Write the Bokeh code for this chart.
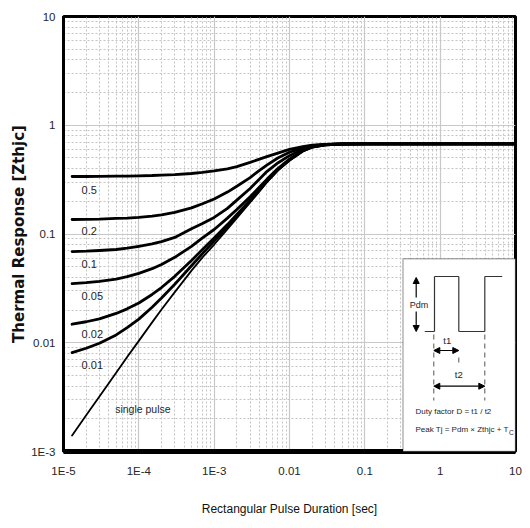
from bokeh.plotting import figure
from bokeh.models import (Range1d, FixedTicker, CustomJSTickFormatter, BoxAnnotation,
                          Arrow, NormalHead, Label, ColumnDataSource)
from bokeh.core.properties import value
from bokeh.embed import file_html
from bokeh.resources import INLINE

# ---------------- data ----------------
pulse_duration = [1.3e-5, 2e-5, 3e-5, 5e-5, 7e-5, 1e-4, 1.5e-4, 2e-4, 3e-4, 5e-4,
                  7e-4, 1e-3, 1.5e-3, 2e-3, 3e-3, 4e-3, 5e-3, 7e-3, 1e-2, 1.5e-2,
                  2e-2, 3e-2, 5e-2, 1e-1, 1.0, 10.0]
zth_d050 = [0.338, 0.338, 0.339, 0.340, 0.341, 0.343, 0.345, 0.348, 0.352, 0.360,
            0.368, 0.380, 0.398, 0.417, 0.455, 0.488, 0.515, 0.555, 0.600, 0.637,
            0.656, 0.668, 0.673, 0.675, 0.675, 0.675]
zth_d020 = [0.136, 0.1365, 0.137, 0.139, 0.140, 0.142, 0.146, 0.150, 0.158, 0.174,
            0.190, 0.210, 0.243, 0.275, 0.330, 0.385, 0.430, 0.500, 0.565, 0.620,
            0.648, 0.666, 0.673, 0.675, 0.675, 0.675]
zth_d010 = [0.069, 0.0695, 0.0705, 0.072, 0.074, 0.077, 0.081, 0.085, 0.093, 0.112,
            0.125, 0.142, 0.172, 0.205, 0.262, 0.320, 0.375, 0.450, 0.525, 0.603,
            0.641, 0.664, 0.672, 0.675, 0.675, 0.675]
zth_d005 = [0.035, 0.0357, 0.0367, 0.0385, 0.0405, 0.0435, 0.048, 0.0525, 0.061, 0.077,
            0.092, 0.110, 0.140, 0.168, 0.220, 0.270, 0.318, 0.400, 0.488, 0.586,
            0.633, 0.662, 0.672, 0.675, 0.675, 0.675]
zth_d002 = [0.0148, 0.0156, 0.0166, 0.0186, 0.0205, 0.0232, 0.0278, 0.0322, 0.0408, 0.057,
            0.072, 0.092, 0.122, 0.151, 0.205, 0.256, 0.306, 0.391, 0.480, 0.581,
            0.630, 0.661, 0.672, 0.675, 0.675, 0.675]
zth_d001 = [0.0081, 0.0089, 0.0099, 0.0118, 0.0138, 0.0165, 0.0212, 0.0258, 0.0345, 0.051,
            0.066, 0.086, 0.117, 0.146, 0.200, 0.252, 0.303, 0.388, 0.478, 0.580,
            0.629, 0.661, 0.672, 0.675, 0.675, 0.675]
zth_single = [0.0014, 0.00215, 0.0032, 0.0053, 0.0074, 0.0104, 0.0154, 0.0202, 0.0292, 0.046,
              0.061, 0.080, 0.111, 0.140, 0.195, 0.248, 0.300, 0.385, 0.475, 0.578,
              0.628, 0.661, 0.672, 0.675, 0.675, 0.675]

duty_labels = ["0.5", "0.2", "0.1", "0.05", "0.02", "0.01"]
duty_series = [zth_d050, zth_d020, zth_d010, zth_d005, zth_d002, zth_d001]
single_label = "single pulse"

x_ticks = [1e-5, 1e-4, 1e-3, 1e-2, 1e-1, 1.0, 10.0]
x_tick_labels = ["1E-5", "1E-4", "1E-3", "0.01", "0.1", "1", "10"]
y_ticks = [1e-3, 1e-2, 1e-1, 1.0, 10.0]
y_tick_labels = ["1E-3", "0.01", "0.1", "1", "10"]

x_title = "Rectangular Pulse Duration [sec]"
y_title = "Thermal Response [Zthjc]"
inset_text1 = "Duty factor D = t1 / t2"
inset_text2 = "Peak Tj = Pdm \u00d7 Zthjc + T"

# ---------------- figure ----------------
SANS = "Liberation Sans"
TXT = "#262626"

p = figure(width=530, height=528, x_axis_type="log", y_axis_type="log",
           x_range=Range1d(1e-5, 10), y_range=Range1d(1e-3, 10),
           output_backend="svg", toolbar_location=None,
           min_border_left=63, min_border_right=15, min_border_top=16,
           min_border_bottom=77)
p.background_fill_color = "white"
p.border_fill_color = "white"
p.outline_line_color = "black"
p.outline_line_width = 3


def minor_list(majors):
    out = []
    for m in majors[:-1]:
        for k in range(2, 10):
            out.append(m * k)
    return out


p.xaxis.ticker = FixedTicker(ticks=x_ticks, minor_ticks=minor_list(x_ticks))
p.yaxis.ticker = FixedTicker(ticks=y_ticks, minor_ticks=minor_list(y_ticks))
p.xaxis.formatter = CustomJSTickFormatter(
    args=dict(labels=x_tick_labels),
    code="return labels[Math.round(Math.log10(tick)) + 5];")
p.yaxis.formatter = CustomJSTickFormatter(
    args=dict(labels=y_tick_labels),
    code="return labels[Math.round(Math.log10(tick)) + 3];")

for ax in (p.xaxis[0], p.yaxis[0]):
    ax.major_tick_line_color = None
    ax.minor_tick_line_color = None
    ax.major_tick_out = 0
    ax.major_tick_in = 0
    ax.minor_tick_out = 0
    ax.minor_tick_in = 0
    ax.axis_line_color = "black"
    ax.major_label_text_font = SANS
    ax.major_label_text_font_size = "11.5px"
    ax.major_label_text_color = TXT

p.xaxis.axis_line_width = 5
p.yaxis.axis_line_width = 3
p.xaxis.major_label_standoff = 13
p.yaxis.major_label_standoff = 8

p.xaxis.axis_label = x_title
p.xaxis.axis_label_text_font = SANS
p.xaxis.axis_label_text_font_style = "normal"
p.xaxis.axis_label_text_font_size = "12px"
p.xaxis.axis_label_text_color = "#111111"
p.xaxis.axis_label_standoff = 22

p.yaxis.axis_label = y_title
p.yaxis.axis_label_text_font = "DejaVu Sans"
p.yaxis.axis_label_text_font_style = "bold"
p.yaxis.axis_label_text_font_size = "15px"
p.yaxis.axis_label_text_color = "#111111"
p.yaxis.axis_label_standoff = 0

p.grid.grid_line_color = "#c8c8c8"
p.grid.grid_line_width = 1.2
p.grid.minor_grid_line_color = "#c4c4c4"
p.grid.minor_grid_line_dash = "2 2"
p.grid.minor_grid_line_width = 1

# ---------------- curves ----------------
for series in duty_series:
    p.line(pulse_duration, series, line_color="black", line_width=2.8,
           line_join="round", line_cap="round")
p.line(pulse_duration, zth_single, line_color="black", line_width=1.8,
       line_join="round", line_cap="round")

# curve labels anchored at each curve's first point
label_dy = [14, 12, 12, 12, 10, 12]
src = ColumnDataSource(dict(
    x=[pulse_duration[0]] * len(duty_labels),
    y=[s[0] for s in duty_series],
    t=duty_labels, dy=label_dy))
p.text(x="x", y="y", text="t", source=src, x_offset=9.5, y_offset="dy",
       text_font=value(SANS), text_font_size="11px", text_color=TXT,
       text_align="left", text_baseline="middle")
p.text(x=[pulse_duration[3]], y=[zth_single[3]], text=[single_label],
       x_offset=-1, y_offset=36,
       text_font=value(SANS), text_font_size="10.5px", text_color=TXT,
       text_align="left", text_baseline="middle")

# ---------------- inset (screen units relative to the plot frame) ----------------
p.add_layout(BoxAnnotation(left=339.5, right=452, bottom=0, top=192.7,
                           left_units="screen", right_units="screen",
                           bottom_units="screen", top_units="screen",
                           fill_color="white", fill_alpha=1.0,
                           line_color="black", line_width=1.5))

wave_x = [361.3, 371, 371, 395.3, 395.3, 421.3, 421.3]
wave_y = [120, 120, 175, 175, 120, 120, 175]
wave_x2 = [371, 371, 395.3, 395.3, 421.3, 421.3, 438.7]
wave_y2 = [120, 175, 175, 120, 120, 175, 175]
p.add_layout(Arrow(end=None, source=ColumnDataSource(dict(
    x0=wave_x, y0=wave_y, x1=wave_x2, y1=wave_y2)),
    x_start="x0", y_start="y0", x_end="x1", y_end="y1",
    start_units="screen", end_units="screen",
    line_color="#333333", line_width=1.2))

# dashed guides
p.add_layout(Arrow(end=None, source=ColumnDataSource(dict(
    x0=[370.3, 421.3, 395.3], y0=[117, 117, 94], x1=[370.3, 421.3, 395.3], y1=[51, 51, 87])),
    x_start="x0", y_start="y0", x_end="x1", y_end="y1",
    start_units="screen", end_units="screen",
    line_color="#555555", line_width=1, line_dash="5 4"))


def head():
    return NormalHead(size=6, fill_color="black", line_color="black", line_width=1)


# Pdm arrow (two halves)
for y0, y1 in ((154, 174), (140, 120)):
    p.add_layout(Arrow(x_start=352.7, y_start=y0, x_end=352.7, y_end=y1,
                       start_units="screen", end_units="screen",
                       end=head(), line_color="black", line_width=1.2))
# t1 and t2 arrows
for yy, x1 in ((101, 395.3), (65.3, 421.3)):
    p.add_layout(Arrow(x_start=370.3, y_start=yy, x_end=x1, y_end=yy,
                       start_units="screen", end_units="screen",
                       start=head(), end=head(), line_color="black", line_width=1.2))

for txt, sx, sy, align, size in (("Pdm", 355.5, 147, "center", "9px"),
                                 ("t1", 383.7, 111, "center", "9.5px"),
                                 ("t2", 395.3, 77, "center", "9.5px"),
                                 (inset_text1, 352, 40.3, "left", "8px"),
                                 (inset_text2, 352, 22, "left", "8px")):
    p.add_layout(Label(x=sx, y=sy, x_units="screen", y_units="screen", text=txt,
                       text_font=SANS, text_font_size=size, text_color=TXT,
                       text_align=align, text_baseline="middle"))
p.add_layout(Label(x=445.5, y=19, x_units="screen", y_units="screen", text="C",
                   text_font=SANS, text_font_size="6.5px", text_color=TXT,
                   text_align="left", text_baseline="middle"))

open("out.html", "w").write(file_html(p, INLINE))
